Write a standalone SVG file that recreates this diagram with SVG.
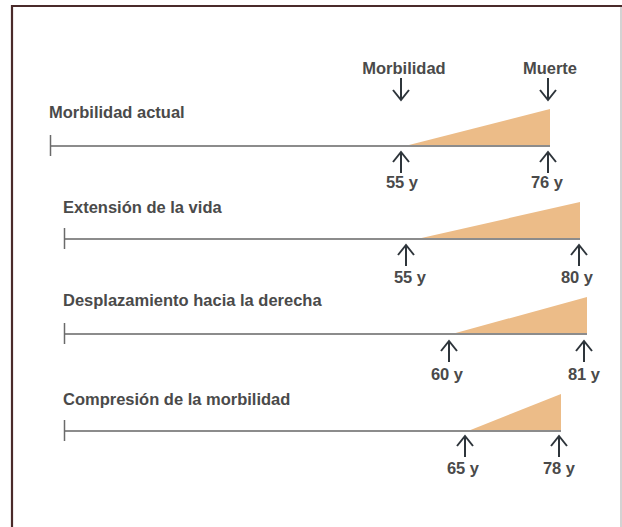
<svg xmlns="http://www.w3.org/2000/svg" width="622" height="527" viewBox="0 0 622 527">
<style>
  text { font-family: "Liberation Sans", Arial, sans-serif; font-weight: bold; font-size: 16.5px; fill: #4a4a4a; }
  .mid { text-anchor: middle; }
  .base { stroke: #8c8c8c; stroke-width: 2; fill: none; }
  .tick { stroke: #6a6a6a; stroke-width: 1.5; fill: none; }
  .wedge { fill: #ecbc88; stroke: none; }
  .arr { stroke: #2e353b; stroke-width: 2; fill: none; stroke-linejoin: miter; }
</style>
<rect x="0" y="0" width="622" height="527" fill="#ffffff"/>
<g id="frame">
  <line x1="11" y1="6" x2="622" y2="6" stroke="#4a2a2a" stroke-width="2.2"/>
  <line x1="12" y1="5" x2="12" y2="527" stroke="#4a2a2a" stroke-width="2.2"/>
  <line x1="621" y1="7" x2="621" y2="527" stroke="#c4c4c4" stroke-width="1.5"/>
</g>
<g id="header">
  <text class="mid" x="404" y="74">Morbilidad</text>
  <text class="mid" x="550" y="74">Muerte</text>
</g>
<g id="row1">
  <text x="49" y="118">Morbilidad actual</text>
  <polygon class="wedge" points="405,146 550,109 550,146"/>
  <line class="base" x1="50" y1="146" x2="550" y2="146"/>
  <line class="tick" x1="50.5" y1="135" x2="50.5" y2="156"/>
  <text class="mid" x="402" y="188">55 y</text>
  <text class="mid" x="547" y="188">76 y</text>
</g>
<g id="row2">
  <text x="63" y="213">Extensión de la vida</text>
  <polygon class="wedge" points="417,239 580,202 580,239"/>
  <line class="base" x1="64" y1="239" x2="580" y2="239"/>
  <line class="tick" x1="64.5" y1="228" x2="64.5" y2="249"/>
  <text class="mid" x="410" y="283">55 y</text>
  <text class="mid" x="577" y="283">80 y</text>
</g>
<g id="row3">
  <text x="63" y="306">Desplazamiento hacia la derecha</text>
  <polygon class="wedge" points="452,334 587,297 587,334"/>
  <line class="base" x1="64" y1="334" x2="587" y2="334"/>
  <line class="tick" x1="64.5" y1="323" x2="64.5" y2="344"/>
  <text class="mid" x="447" y="380">60 y</text>
  <text class="mid" x="584" y="380">81 y</text>
</g>
<g id="row4">
  <text x="63" y="405">Compresión de la morbilidad</text>
  <polygon class="wedge" points="468,431 561,394 561,431"/>
  <line class="base" x1="64" y1="431" x2="561" y2="431" stroke="#707070"/>
  <line class="tick" x1="64.5" y1="420" x2="64.5" y2="441"/>
  <text class="mid" x="463" y="474">65 y</text>
  <text class="mid" x="559" y="474">78 y</text>
</g>
<g id="connectors">
  <path class="arr" d="M401,78 V100 M393,90 L401,100 L409,90"/>
  <path class="arr" d="M548,78 V100 M540,90 L548,100 L556,90"/>
  <path class="arr" d="M401,173 V152 M393,162 L401,152 L409,162"/>
  <path class="arr" d="M548,173 V152 M540,162 L548,152 L556,162"/>
  <path class="arr" d="M406,266 V245 M398,255 L406,245 L414,255"/>
  <path class="arr" d="M579,266 V245 M571,255 L579,245 L587,255"/>
  <path class="arr" d="M449,362 V341 M441,351 L449,341 L457,351"/>
  <path class="arr" d="M584,362 V341 M576,351 L584,341 L592,351"/>
  <path class="arr" d="M465,457 V436 M457,446 L465,436 L473,446"/>
  <path class="arr" d="M559,457 V436 M551,446 L559,436 L567,446"/>
</g>
</svg>
